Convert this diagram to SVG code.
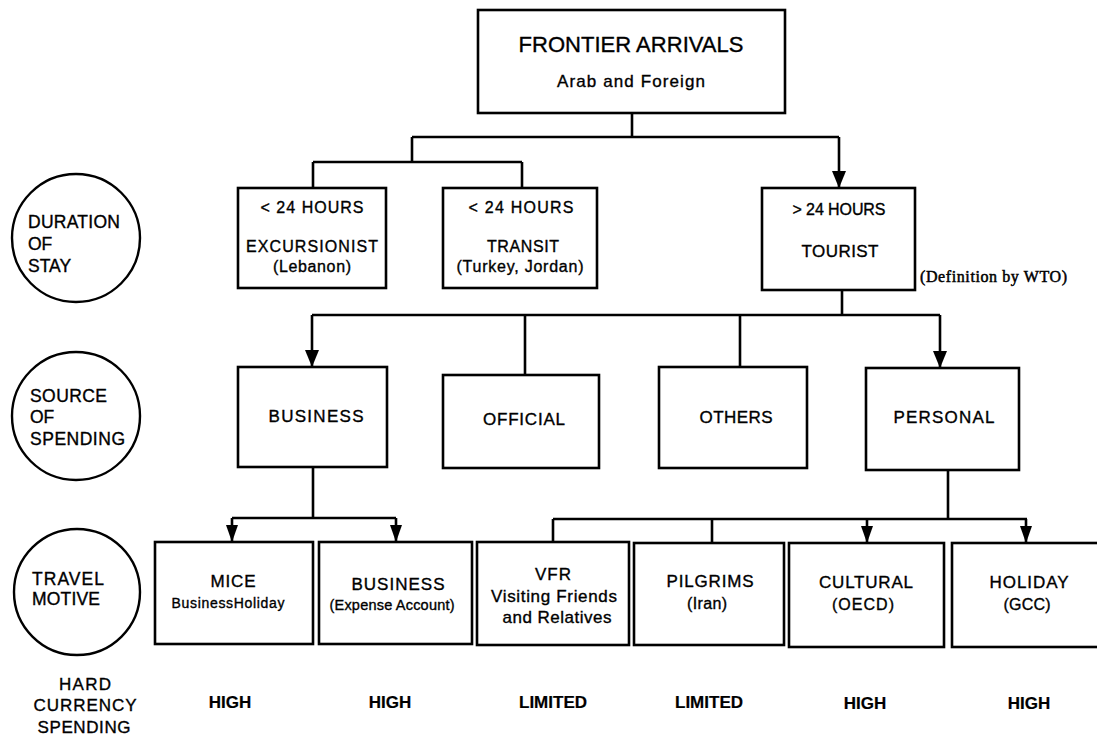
<svg xmlns="http://www.w3.org/2000/svg" width="1097" height="737" viewBox="0 0 1097 737">
<style>
text{font-family:"Liberation Sans",Arial,sans-serif;fill:#000;stroke:#000;stroke-width:0.35;text-anchor:middle}
.box{fill:#fff;stroke:#000;stroke-width:2.6}
.circ{fill:#fff;stroke:#000;stroke-width:2.4}
.con{fill:none;stroke:#000;stroke-width:2.6}
.t17{font-size:17px}
.t16{font-size:16px}
.lbl{font-size:17.5px;text-anchor:start}
.val{font-size:17px;font-weight:bold;stroke-width:0.2}
.def{font-family:"Liberation Serif","Times New Roman",serif;font-size:16px;text-anchor:start;stroke-width:0.5}
</style>
<defs>
<marker id="ah" markerUnits="userSpaceOnUse" viewBox="0 0 17 14" refX="17" refY="7" markerWidth="17" markerHeight="14" orient="auto"><path d="M0,0 L17,7 L0,14 z" fill="#000"/></marker>
<marker id="ahs" markerUnits="userSpaceOnUse" viewBox="0 0 17 12" refX="17" refY="6" markerWidth="17" markerHeight="12" orient="auto"><path d="M0,0 L17,6 L0,12 z" fill="#000"/></marker>
</defs>
<rect width="1097" height="737" fill="#fff"/>

<g id="connectors">
<path class="con" d="M632,113 V137 M412,137 H839"/>
<path class="con" d="M839,137 V188" marker-end="url(#ah)"/>
<path class="con" d="M412,137 V162 M313,162 H522 M313,162 V188 M522,162 V188"/>
<path class="con" d="M842,290 V315 M312,315 H940 M525,315 V375 M740,315 V367"/>
<path class="con" d="M312,315 V367" marker-end="url(#ah)"/>
<path class="con" d="M940,315 V368" marker-end="url(#ah)"/>
<path class="con" d="M313,467 V518 M232,518 H396"/>
<path class="con" d="M232,518 V542" marker-end="url(#ahs)"/>
<path class="con" d="M396,518 V542" marker-end="url(#ahs)"/>
<path class="con" d="M948,470 V519 M553,519 H1027 M553,519 V542 M712,519 V543"/>
<path class="con" d="M867,519 V543" marker-end="url(#ahs)"/>
<path class="con" d="M1026,519 V543" marker-end="url(#ahs)"/>
</g>

<g id="frontier">
<rect class="box" x="478" y="10" width="307" height="103"/>
<text x="631" y="52" style="font-size:22px" textLength="225">FRONTIER ARRIVALS</text>
<text x="631" y="87" class="t17" textLength="148">Arab and Foreign</text>
</g>

<g id="circle-duration">
<circle class="circ" cx="76" cy="238" r="64"/>
<text class="lbl" x="28" y="228" textLength="92">DURATION</text>
<text class="lbl" x="28" y="250">OF</text>
<text class="lbl" x="28" y="272">STAY</text>
</g>

<g id="excursionist">
<rect class="box" x="238" y="188" width="148" height="100"/>
<text x="312" y="213" class="t16" textLength="103">&lt; 24 HOURS</text>
<text x="312" y="252" class="t16" textLength="132">EXCURSIONIST</text>
<text x="312" y="272" class="t16" textLength="78">(Lebanon)</text>
</g>

<g id="transit">
<rect class="box" x="443" y="188" width="154" height="100"/>
<text x="521" y="213" class="t16" textLength="105">&lt; 24 HOURS</text>
<text x="523" y="252" class="t16" textLength="72">TRANSIT</text>
<text x="520" y="272" class="t16" textLength="127">(Turkey, Jordan)</text>
</g>

<g id="tourist">
<rect class="box" x="762" y="188" width="153" height="102"/>
<text x="839" y="215" class="t16" textLength="93">&gt; 24 HOURS</text>
<text x="840" y="257" class="t17" textLength="77">TOURIST</text>
<text x="920" y="282" class="def" textLength="147">(Definition by WTO)</text>
</g>

<g id="circle-source">
<circle class="circ" cx="76" cy="416" r="64"/>
<text class="lbl" x="30" y="402" textLength="77">SOURCE</text>
<text class="lbl" x="30" y="423">OF</text>
<text class="lbl" x="30" y="445" textLength="95">SPENDING</text>
</g>

<g id="business-source">
<rect class="box" x="238" y="367" width="149" height="100"/>
<text x="316" y="422" class="t17" textLength="95">BUSINESS</text>
</g>

<g id="official">
<rect class="box" x="443" y="375" width="156" height="93"/>
<text x="524" y="425" class="t17" textLength="82">OFFICIAL</text>
</g>

<g id="others">
<rect class="box" x="659" y="367" width="148" height="101"/>
<text x="736" y="423" class="t17" textLength="73">OTHERS</text>
</g>

<g id="personal">
<rect class="box" x="866" y="368" width="153" height="102"/>
<text x="944" y="423" class="t17" textLength="101">PERSONAL</text>
</g>

<g id="circle-motive">
<circle class="circ" cx="77" cy="592" r="63"/>
<text class="lbl" x="32" y="585" textLength="72">TRAVEL</text>
<text class="lbl" x="32" y="605" textLength="68">MOTIVE</text>
</g>

<g id="mice">
<rect class="box" x="155" y="542" width="158" height="102"/>
<text x="233" y="587" class="t17" textLength="45">MICE</text>
<text x="228" y="608" style="font-size:14px" textLength="113">BusinessHoliday</text>
</g>

<g id="business-motive">
<rect class="box" x="319" y="542" width="153" height="102"/>
<text x="398" y="590" class="t17" textLength="93">BUSINESS</text>
<text x="392" y="610" style="font-size:14.5px" textLength="125">(Expense Account)</text>
</g>

<g id="vfr">
<rect class="box" x="477" y="542" width="152" height="103"/>
<text x="553" y="580" class="t17" textLength="36">VFR</text>
<text x="554" y="602" class="t17" textLength="126">Visiting Friends</text>
<text x="557" y="623" class="t17" textLength="109">and Relatives</text>
</g>

<g id="pilgrims">
<rect class="box" x="634" y="543" width="150" height="102"/>
<text x="710" y="587" class="t17" textLength="87">PILGRIMS</text>
<text x="707" y="609" class="t16" textLength="40">(Iran)</text>
</g>

<g id="cultural">
<rect class="box" x="789" y="543" width="155" height="104"/>
<text x="866" y="588" class="t17" textLength="94">CULTURAL</text>
<text x="863" y="610" class="t16" textLength="62">(OECD)</text>
</g>

<g id="holiday">
<rect class="box" x="952" y="543" width="150" height="104"/>
<text x="1029" y="588" class="t17" textLength="79">HOLIDAY</text>
<text x="1027" y="610" class="t16" textLength="47">(GCC)</text>
</g>

<g id="hard-currency">
<text x="85" y="690" class="t17" textLength="52">HARD</text>
<text x="85" y="711" class="t17" textLength="103">CURRENCY</text>
<text x="84" y="733" class="t17" textLength="93">SPENDING</text>
<text x="230" y="708" class="val">HIGH</text>
<text x="390" y="708" class="val">HIGH</text>
<text x="553" y="708" class="val">LIMITED</text>
<text x="709" y="708" class="val">LIMITED</text>
<text x="865" y="709" class="val">HIGH</text>
<text x="1029" y="709" class="val">HIGH</text>
</g>
</svg>
